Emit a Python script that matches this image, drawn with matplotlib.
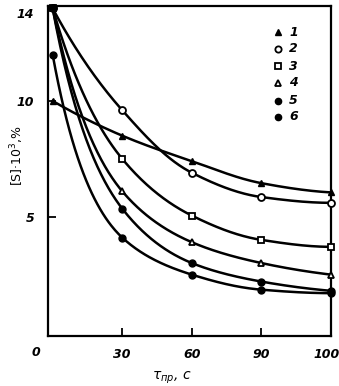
import numpy as np
import matplotlib
matplotlib.use("Agg")
import matplotlib.pyplot as plt
import matplotlib.transforms as mtransforms

# ---- data ----
times = [0, 30, 60, 90, 120]
s1 = [10.0, 8.5, 7.4, 6.45, 6.05]
s2 = [14.0, 9.6, 6.9, 5.85, 5.6]
s3 = [14.0, 7.5, 5.05, 4.0, 3.7]
s4 = [14.0, 6.1, 3.9, 3.0, 2.5]
s5 = [14.0, 5.35, 3.0, 2.2, 1.8]
s6 = [12.0, 4.1, 2.5, 1.85, 1.7]
series_labels = ["1", "2", "3", "4", "5", "6"]
xtick_labels = ["0", "30", "60", "90", "100"]
ytick_vals = [5, 10, 14]


def pchip(x, y, xn):
    x = np.asarray(x, float)
    y = np.asarray(y, float)
    h = np.diff(x)
    d = np.diff(y) / h
    n = len(x)
    m = np.zeros(n)
    for k in range(1, n - 1):
        if d[k - 1] * d[k] > 0:
            w1 = 2 * h[k] + h[k - 1]
            w2 = h[k] + 2 * h[k - 1]
            m[k] = (w1 + w2) / (w1 / d[k - 1] + w2 / d[k])
    def end(h0, h1, d0, d1):
        mm = ((2 * h0 + h1) * d0 - h0 * d1) / (h0 + h1)
        if np.sign(mm) != np.sign(d0):
            mm = 0.0
        elif np.sign(d0) != np.sign(d1) and abs(mm) > 3 * abs(d0):
            mm = 3 * d0
        return mm
    m[0] = end(h[0], h[1], d[0], d[1])
    m[-1] = end(h[-1], h[-2], d[-1], d[-2])
    out = np.empty_like(xn)
    for i, xv in enumerate(xn):
        k = min(np.searchsorted(x, xv, side="right") - 1, n - 2)
        k = max(k, 0)
        t = (xv - x[k]) / h[k]
        h00 = 2 * t**3 - 3 * t**2 + 1
        h10 = t**3 - 2 * t**2 + t
        h01 = -2 * t**3 + 3 * t**2
        h11 = t**3 - t**2
        out[i] = h00 * y[k] + h10 * h[k] * m[k] + h01 * y[k + 1] + h11 * h[k] * m[k + 1]
    return out


# curves drawn smoothly through the points (log space keeps the decay convex)
def smooth(x, y, xn):
    return np.exp(pchip(x, np.log(y), xn))


plt.rcParams['font.family'] = ['DejaVu Sans']
fig = plt.figure(figsize=(3.39, 3.86), dpi=100)
ax = fig.add_axes([48 / 339, 1 - 336 / 386, 283 / 339, 330 / 386])

markers = [
    dict(marker='^', mfc='black', mec='black', ms=5),
    dict(marker='o', mfc='white', mec='black', ms=5, mew=1.3),
    dict(marker='s', mfc='white', mec='black', ms=5, mew=1.3),
    dict(marker='^', mfc='white', mec='black', ms=5, mew=1.3),
    dict(marker='o', mfc='black', mec='black', ms=5),
    dict(marker='o', mfc='black', mec='black', ms=5),
]
allseries = [s1, s2, s3, s4, s5, s6]
xs = np.linspace(times[0], times[-1], 300)
for s, mk in zip(allseries, markers):
    ax.plot(xs, smooth(times, s, xs), color='black', lw=1.8, clip_on=False, zorder=2)
    ax.plot(times, s, ls='none', clip_on=False, zorder=3, **mk)

ax.set_xlim(-2, 119.5)
ax.set_ylim(-0.15, 14.1)

tfont = dict(fontsize=9, fontstyle='italic', fontweight='bold')
ax.set_xticks(times[1:])
ax.set_xticklabels(xtick_labels[1:], **tfont)
ax.text((36 - 48) / 283, -(352 - 336) / 330, xtick_labels[0], transform=ax.transAxes,
        ha='center', va='center', **tfont)
ax.set_yticks(ytick_vals)
ax.set_yticklabels([str(v) for v in ytick_vals], **tfont)
ax.tick_params(direction='in', length=6, width=1.3)
ax.tick_params(axis='x', pad=9)
ax.tick_params(axis='y', pad=10)
# the last x label sits slightly inside the right edge
lastlab = ax.get_xticklabels()[-1]
lastlab.set_transform(lastlab.get_transform() +
                      mtransforms.ScaledTranslation(-4 / 100, 0, fig.dpi_scale_trans))
# the "14" label sits a little below the top corner
toplab = ax.get_yticklabels()[-1]
toplab.set_transform(toplab.get_transform() +
                     mtransforms.ScaledTranslation(0, -5 / 100, fig.dpi_scale_trans))
ax.yaxis.get_major_ticks()[-1].tick1line.set_visible(False)
for sp in ax.spines.values():
    sp.set_linewidth(1.6)

ax.set_ylabel("[S]·10$^3$,%", fontsize=9)
ax.yaxis.set_label_coords((26 - 48) / 283, 1 - (156 - 6) / 330)
fig.text(172 / 339, 1 - 378 / 386, "$\\tau_{\\mathit{пр}}$, c", fontsize=10,
         fontstyle='italic', ha='center', va='center')

# legend drawn manually
leg_y = [32, 49, 66, 83, 101, 117]
for lab, mk, py in zip(series_labels, markers, leg_y):
    yf = 1 - (py - 6) / 330
    ax.plot([(278 - 48) / 283], [yf], transform=ax.transAxes, ls='none', clip_on=False,
            **{k: v for k, v in mk.items() if k != 'ms'}, ms=4.5)
    ax.text((289 - 48) / 283, yf, lab, transform=ax.transAxes, va='center', ha='left',
            **tfont)

fig.savefig("out.png", dpi=100)
